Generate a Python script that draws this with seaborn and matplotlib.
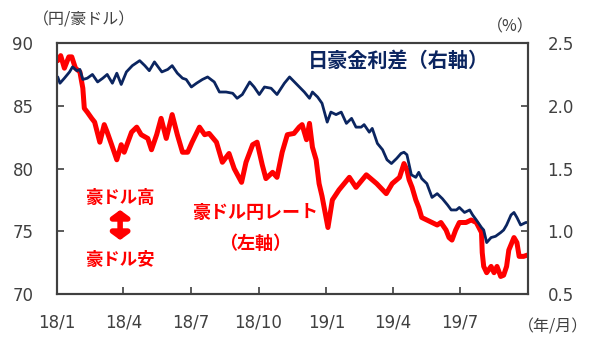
import pandas as pd
import matplotlib.pyplot as plt
from matplotlib.ticker import FuncFormatter
import seaborn as sns

# 豪ドル円レート (円/豪ドル, left axis)
rate_dates = [
    "2018-01-02", "2018-01-06", "2018-01-11", "2018-01-17", "2018-01-21", "2018-01-26",
    "2018-02-01", "2018-02-05", "2018-02-07", "2018-02-11", "2018-02-17", "2018-02-21",
    "2018-02-28", "2018-03-06", "2018-03-10", "2018-03-16", "2018-03-23", "2018-03-29",
    "2018-04-02", "2018-04-12", "2018-04-19", "2018-04-25", "2018-05-04", "2018-05-09",
    "2018-05-16", "2018-05-22", "2018-05-29", "2018-06-06", "2018-06-13", "2018-06-20",
    "2018-06-27", "2018-07-03", "2018-07-13", "2018-07-20", "2018-07-26", "2018-08-05",
    "2018-08-13", "2018-08-22", "2018-08-29", "2018-09-08", "2018-09-14", "2018-09-23",
    "2018-09-29", "2018-10-06", "2018-10-11", "2018-10-20", "2018-10-26", "2018-11-02",
    "2018-11-09", "2018-11-18", "2018-11-25", "2018-11-29", "2018-12-05", "2018-12-09",
    "2018-12-13", "2018-12-18", "2018-12-22", "2018-12-26", "2019-01-03", "2019-01-09",
    "2019-01-18", "2019-02-01", "2019-02-10", "2019-02-24", "2019-03-10", "2019-03-23",
    "2019-03-31", "2019-04-10", "2019-04-16", "2019-04-20", "2019-04-23", "2019-04-27",
    "2019-05-02", "2019-05-06", "2019-05-10", "2019-05-17", "2019-05-24", "2019-05-31",
    "2019-06-05", "2019-06-12", "2019-06-16", "2019-06-20", "2019-06-25", "2019-06-30",
    "2019-07-09", "2019-07-16", "2019-07-23", "2019-07-30", "2019-07-31", "2019-08-02",
    "2019-08-06", "2019-08-12", "2019-08-16", "2019-08-20", "2019-08-25", "2019-08-29",
    "2019-09-02", "2019-09-05", "2019-09-12", "2019-09-16", "2019-09-19", "2019-09-25",
    "2019-09-30",
]
rate_vals = [
    88.6, 89.0, 88.0, 88.9, 88.9, 88.0,
    87.7, 86.4, 84.8, 84.5, 84.0, 83.7,
    82.1, 83.5, 82.9, 81.9, 80.7, 81.9,
    81.3, 82.9, 83.3, 82.7, 82.4, 81.5,
    82.7, 84.0, 82.4, 84.3, 82.7, 81.3,
    81.3, 82.1, 83.3, 82.7, 82.8, 82.1,
    80.5, 81.2, 80.0, 78.9, 80.5, 81.9,
    82.1, 80.3, 79.2, 79.7, 79.3, 81.3,
    82.7, 82.8, 83.3, 83.5, 82.3, 83.6,
    81.7, 80.7, 78.8, 77.8, 75.3, 77.5,
    78.3, 79.3, 78.5, 79.5, 78.8, 78.0,
    78.8, 79.3, 80.4, 79.9, 79.1, 78.5,
    77.5, 76.9, 76.1, 75.9, 75.7, 75.5,
    75.7, 75.1, 74.5, 74.3, 75.1, 75.7,
    75.7, 75.9, 75.7, 74.9, 73.3, 72.2,
    71.7, 72.2, 71.7, 72.2, 71.4, 71.5,
    72.2, 73.5, 74.5, 74.1, 73.0, 73.0,
    73.1,
]

# 日豪金利差 (%, right axis)
spread_dates = [
    "2018-01-02", "2018-01-05", "2018-01-11", "2018-01-18", "2018-01-22", "2018-01-28",
    "2018-02-01", "2018-02-05", "2018-02-11", "2018-02-18", "2018-02-25", "2018-03-04",
    "2018-03-10", "2018-03-17", "2018-03-23", "2018-03-29", "2018-04-05", "2018-04-13",
    "2018-04-23", "2018-04-30", "2018-05-06", "2018-05-13", "2018-05-23", "2018-05-31",
    "2018-06-06", "2018-06-13", "2018-06-20", "2018-06-25", "2018-07-02", "2018-07-09",
    "2018-07-17", "2018-07-24", "2018-08-02", "2018-08-09", "2018-08-18", "2018-08-27",
    "2018-09-02", "2018-09-09", "2018-09-19", "2018-09-25", "2018-10-02", "2018-10-09",
    "2018-10-18", "2018-10-26", "2018-11-05", "2018-11-12", "2018-11-22", "2018-12-02",
    "2018-12-09", "2018-12-13", "2018-12-20", "2018-12-26", "2019-01-02", "2019-01-07",
    "2019-01-14", "2019-01-21", "2019-01-28", "2019-02-04", "2019-02-10", "2019-02-17",
    "2019-02-21", "2019-02-28", "2019-03-04", "2019-03-11", "2019-03-18", "2019-03-24",
    "2019-03-30", "2019-04-06", "2019-04-12", "2019-04-16", "2019-04-20", "2019-04-26",
    "2019-05-02", "2019-05-06", "2019-05-10", "2019-05-17", "2019-05-24", "2019-05-31",
    "2019-06-07", "2019-06-14", "2019-06-19", "2019-06-26", "2019-06-30", "2019-07-07",
    "2019-07-14", "2019-07-18", "2019-07-23", "2019-07-30", "2019-08-02", "2019-08-06",
    "2019-08-12", "2019-08-18", "2019-08-25", "2019-08-29", "2019-09-02", "2019-09-08",
    "2019-09-12", "2019-09-16", "2019-09-21", "2019-09-28", "2019-09-30",
]
spread_vals = [
    2.23, 2.18, 2.22, 2.27, 2.31, 2.28,
    2.29, 2.21, 2.22, 2.25, 2.19, 2.22,
    2.25, 2.18, 2.26, 2.17, 2.27, 2.32,
    2.36, 2.32, 2.28, 2.35, 2.27, 2.29,
    2.32, 2.26, 2.22, 2.21, 2.15, 2.18,
    2.21, 2.23, 2.19, 2.11, 2.11, 2.10,
    2.06, 2.09, 2.19, 2.15, 2.09, 2.15,
    2.14, 2.09, 2.18, 2.23, 2.17, 2.11,
    2.06, 2.11, 2.07, 2.02, 1.87, 1.95,
    1.93, 1.95, 1.86, 1.90, 1.83, 1.83,
    1.85, 1.79, 1.82, 1.70, 1.65, 1.57,
    1.54, 1.58, 1.62, 1.63, 1.61, 1.45,
    1.43, 1.47, 1.42, 1.38, 1.27, 1.30,
    1.26, 1.21, 1.17, 1.17, 1.19, 1.15,
    1.17, 1.13, 1.09, 1.03, 1.01, 0.91,
    0.95, 0.96, 0.99, 1.01, 1.05, 1.13,
    1.15, 1.11, 1.05, 1.07, 1.07,
]

tick_dates = ["2018-01-01", "2018-04-01", "2018-07-01", "2018-10-01",
              "2019-01-01", "2019-04-01", "2019-07-01"]
tick_labels = ["18/1", "18/4", "18/7", "18/10", "19/1", "19/4", "19/7"]
left_ticks = [70, 75, 80, 85, 90]
right_ticks = [0.5, 1.0, 1.5, 2.0, 2.5]

RED = "#FF0000"
NAVY = "#0B2560"
GREY = "#404040"
JP = ["Noto Sans CJK JP", "DejaVu Sans"]

rate_df = pd.DataFrame({"date": pd.to_datetime(rate_dates), "value": rate_vals})
spread_df = pd.DataFrame({"date": pd.to_datetime(spread_dates), "value": spread_vals})

sns.set_theme(style="white")
plt.rcParams["font.family"] = ["DejaVu Sans", "Noto Sans CJK JP"]

fig = plt.figure(figsize=(5.95, 3.59), dpi=100)
ax = fig.add_axes([0.0958, 0.181, 0.7916, 0.699])
sns.lineplot(data=rate_df, x="date", y="value", ax=ax, color=RED, lw=3.6)
ax2 = ax.twinx()
sns.lineplot(data=spread_df, x="date", y="value", ax=ax2, color=NAVY, lw=2.0)

ax.set_xlim(pd.Timestamp("2018-01-01"), pd.Timestamp("2019-10-01"))
ax.set_ylim(70, 90)
ax2.set_ylim(0.5, 2.5)
ax.set_xticks(pd.to_datetime(tick_dates))
ax.set_xticklabels(tick_labels)
ax.set_yticks(left_ticks)
ax2.set_yticks(right_ticks)
ax2.yaxis.set_major_formatter(FuncFormatter(lambda v, p: f"{v:.1f}"))
for a in (ax, ax2):
    a.set_xlabel("")
    a.set_ylabel("")
    for s in a.spines.values():
        s.set_color(GREY)
        s.set_linewidth(1.5)
ax.tick_params(axis="x", bottom=True, direction="in", length=5, width=1.2,
               color=GREY, labelcolor=GREY, labelsize=12, pad=14)
ax.tick_params(axis="y", left=True, direction="in", length=5, width=1.2,
               color=GREY, labelcolor=GREY, labelsize=12, pad=17)
ax2.tick_params(axis="y", right=True, direction="in", length=5, width=1.2,
                color=GREY, labelcolor=GREY, labelsize=12, pad=14)

# annotations
ax2.text(0.724, 0.932, "日豪金利差（右軸）", transform=ax2.transAxes, ha="center",
         va="center", fontsize=14.5, fontweight="bold", color=NAVY, family=JP)
ax2.text(0.420, 0.323, "豪ドル円レート", transform=ax2.transAxes, ha="center",
         va="center", fontsize=13, fontweight="bold", color=RED, family=JP)
ax2.text(0.420, 0.203, "（左軸）", transform=ax2.transAxes, ha="center",
         va="center", fontsize=13, fontweight="bold", color=RED, family=JP)
ax2.text(0.134, 0.382, "豪ドル高", transform=ax2.transAxes, ha="center",
         va="center", fontsize=12.5, fontweight="bold", color=RED, family=JP)
ax2.text(0.134, 0.135, "豪ドル安", transform=ax2.transAxes, ha="center",
         va="center", fontsize=12.5, fontweight="bold", color=RED, family=JP)
ax2.annotate("", xy=(0.134, 0.335), xytext=(0.134, 0.215), xycoords="axes fraction",
             arrowprops=dict(arrowstyle="<|-|>,head_width=0.55,head_length=0.4",
                             color=RED, lw=4, mutation_scale=10, shrinkA=0, shrinkB=0))

fig.text(0.141, 0.944, "（円/豪ドル）", ha="center", va="center", fontsize=11.5,
         color=GREY, family=JP)
fig.text(0.857, 0.925, "（%）", ha="center", va="center", fontsize=11.5,
         color=GREY, family=JP)
fig.text(0.930, 0.089, "（年/月）", ha="center", va="center", fontsize=11.5,
         color=GREY, family=JP)

fig.savefig("out.png", dpi=100)
